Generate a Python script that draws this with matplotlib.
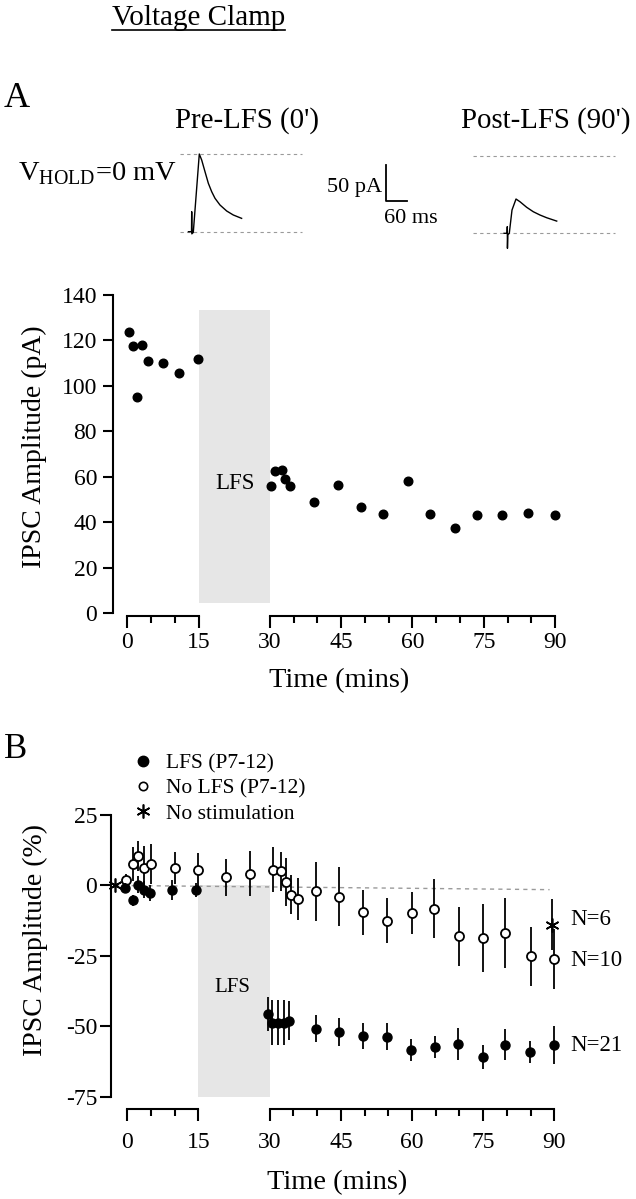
import matplotlib
matplotlib.use("Agg")
import matplotlib.pyplot as plt
from matplotlib.lines import Line2D

plt.rcParams['font.family'] = ['Liberation Serif', 'DejaVu Serif']
plt.rcParams['mathtext.fontset'] = 'custom'
plt.rcParams['mathtext.rm'] = 'Liberation Serif'
plt.rcParams['axes.unicode_minus'] = False

# ---- panel A: single cell, IPSC amplitude (pA) ----
a_time = [0.4, 1.1, 2.1, 3.1, 4.3, 7.6, 10.8, 14.8,
          30.3, 31.0, 32.5, 33.1, 34.3, 39.3, 44.4, 49.1, 53.8, 59.0,
          63.7, 68.9, 73.5, 78.8, 84.4, 89.9]
a_amp = [123.9, 117.5, 95.2, 117.8, 111.1, 110.1, 105.6, 112.0,
         56.1, 62.6, 62.9, 58.9, 55.8, 48.9, 56.5, 46.6, 43.5, 58.1,
         43.5, 37.4, 43.3, 43.3, 43.9, 43.2]

# ---- panel B: group data, % change (mean +/- sem) ----
lfs_time = [-0.5, 1.1, 2.3, 3.6, 4.8, 9.5, 14.4,
            29.6, 30.6, 31.8, 33.0, 34.1, 39.8, 44.7, 49.7, 54.7,
            59.8, 64.8, 69.7, 74.9, 79.7, 84.9, 89.9]
lfs_pct = [-0.8, -5.3, 0.3, -1.5, -2.7, -1.5, -1.5,
           -45.6, -48.8, -48.8, -48.8, -48.0, -50.8, -52.0, -53.5, -53.7,
           -58.5, -57.4, -56.4, -60.9, -56.5, -59.1, -56.6]
lfs_err = [1.5, 2.0, 3.0, 3.0, 3.0, 3.5, 2.5,
           6.0, 8.0, 8.0, 8.0, 7.0, 4.7, 4.9, 4.7, 4.8,
           3.9, 4.0, 5.7, 4.1, 5.6, 3.8, 6.7]

nolfs_time = [-0.3, 1.3, 2.3, 3.5, 5.0, 10.0, 14.9, 20.8, 25.8,
              30.7, 32.3, 33.4, 34.6, 36.0, 39.8, 44.6, 49.7, 54.7,
              59.9, 64.7, 69.9, 75.0, 79.7, 85.0, 90.0]
nolfs_pct = [2.0, 7.6, 10.4, 6.2, 7.6, 6.2, 5.4, 2.9, 4.2,
             5.5, 5.0, 1.2, -3.3, -4.8, -2.1, -4.0, -9.5, -12.5,
             -9.8, -8.2, -18.0, -18.6, -16.9, -25.1, -26.0]
nolfs_err = [2.0, 6.0, 5.3, 7.7, 7.2, 5.7, 6.0, 6.5, 8.0,
             8.0, 7.0, 8.5, 7.0, 7.5, 10.5, 10.5, 8.0, 8.0,
             7.3, 10.5, 10.5, 12.0, 12.5, 10.5, 10.6]

nostim_time = [-2.6, 89.6]
nostim_pct = [0.0, -13.9]
nostim_err = [0.0, 9.0]
baseline_time = [-2.6, 89.0]
baseline_pct = [0.0, -1.5]

n_labels = ['N=6', 'N=10', 'N=21']
n_pct = [-12.1, -26.7, -56.7]

# ---- example traces (ms from stimulus, pA from baseline) ----
pre_ms = [-9, -0.5, 0, 0.4, 4.4, 21, 27.6, 36.8, 46, 55.3, 64.4, 78.2, 96.7, 115, 138]
pre_pa = [0, 0, 28, -3, -1, 108.8, 100.4, 84, 67.8, 56, 46.8, 37.4, 29, 23.4, 18.7]
post_ms = [-9, -0.5, 0, 0.4, 1.5, 5.5, 13, 24.1, 35.1, 53.6, 71.9, 90.4, 108.9, 136.6]
post_pa = [0, 0, 9.3, -21, -2, 0, 32.6, 48, 44.2, 36.4, 30.2, 25.6, 21.8, 17.1]
pre_peak = 108.8
pre_ref_ms = [-32.4, 304]
post_ref_ms = [-94.8, 297.8]

W, H = 636, 1199
fig = plt.figure(figsize=(W / 100, H / 100), dpi=100)


def fx(x):
    return x / W


def fy(y):
    return 1 - y / H


def px_axes(x0, y0, x1, y1):
    return fig.add_axes([fx(x0), fy(y1), (x1 - x0) / W, (y1 - y0) / H])


def time_axis(ax, offset, tpad, lpad):
    for s in ['top', 'right']:
        ax.spines[s].set_visible(False)
    ax.spines['left'].set_linewidth(1.5)
    ax.spines['bottom'].set_linewidth(1.5)
    ax.spines['bottom'].set_position(('outward', offset))
    ax.spines['bottom'].set_bounds(0, 15)
    ax.set_xticks([0, 15])
    ax.set_xticks([5, 10], minor=True)
    ax2 = ax.twiny()
    ax2.set_xlim(ax.get_xlim())
    ax2.xaxis.set_ticks_position('bottom')
    for s in ['top', 'right', 'left']:
        ax2.spines[s].set_visible(False)
    ax2.spines['bottom'].set_visible(True)
    ax2.spines['bottom'].set_linewidth(1.5)
    ax2.spines['bottom'].set_position(('outward', offset))
    ax2.spines['bottom'].set_bounds(30, 90)
    ax2.set_xticks(range(30, 91, 15))
    ax2.set_xticks([35, 40, 50, 55, 65, 70, 80, 85], minor=True)
    for a in (ax, ax2):
        a.tick_params(axis='x', which='major', length=8.5, width=1.5, labelsize=17, pad=tpad)
        a.tick_params(axis='x', which='minor', length=5, width=1.5)
    ax.tick_params(axis='y', length=7.5, width=1.5, labelsize=17, pad=4)
    ax.set_xlabel('Time (mins)', fontsize=20.5, labelpad=lpad)


# ---- header ----
t = fig.text(fx(112), fy(25), 'Voltage Clamp', fontsize=21, va='baseline')
fig.text(fx(4), fy(107), 'A', fontsize=26, va='baseline')
fig.text(fx(175), fy(128), "Pre-LFS (0')", fontsize=20.8, va='baseline')
fig.text(fx(461), fy(128), "Post-LFS (90')", fontsize=20.8, va='baseline')
fig.text(fx(18), fy(180), r'V$_{\mathrm{HOLD}}$=0 mV', fontsize=20.5, va='baseline')
fig.text(fx(4), fy(758), 'B', fontsize=25, va='baseline')

fig.canvas.draw()
bb = t.get_window_extent()
fig.add_artist(Line2D([bb.x0, bb.x1], [bb.y0 + 1, bb.y0 + 1], transform=None,
                      color='black', lw=1.2))

# ---- traces ----
MS_PER_PX = 60 / 21.7
PA_PER_PX = 50 / 35.7


def trace_axes(x0, y0, x1, y1, ox, oy):
    ax = px_axes(x0, y0, x1, y1)
    ax.set_xlim((x0 - ox) * MS_PER_PX, (x1 - ox) * MS_PER_PX)
    ax.set_ylim((oy - y1) * PA_PER_PX, (oy - y0) * PA_PER_PX)
    ax.axis('off')
    return ax


ax_pre = trace_axes(170, 140, 320, 260, 191.7, 231.7)
for lvl in (0, pre_peak):
    ax_pre.plot(pre_ref_ms, [lvl, lvl], color='#9a9a9a', lw=0.8, ls=(0, (3, 3)))
ax_pre.plot(pre_ms, pre_pa, color='black', lw=1.0)

ax_post = trace_axes(320, 140, 630, 260, 507.3, 233.3)
for lvl in (0, pre_peak):
    ax_post.plot(post_ref_ms, [lvl, lvl], color='#9a9a9a', lw=0.8, ls=(0, (3, 3)))
ax_post.plot(post_ms, post_pa, color='black', lw=1.0)

# scale bar
sb_x = (385.7 - 507.3) * MS_PER_PX
sb_y = (233.3 - 200.7) * PA_PER_PX
ax_post.plot([sb_x, sb_x, sb_x + 60], [sb_y + 50, sb_y, sb_y], color='black', lw=1.3)
fig.text(fx(382), fy(192), '50 pA', fontsize=16, ha='right', va='baseline')
fig.text(fx(384), fy(223), '60 ms', fontsize=16, ha='left', va='baseline')

# ---- panel A ----
axA = px_axes(113, 295, 564.6, 613.3)
axA.set_xlim(-3.01, 92)
axA.set_ylim(0, 140)
axA.axvspan(15, 30, ymin=4.5 / 140, ymax=133.4 / 140, color='#e6e6e6', lw=0, zorder=0)
axA.text(22.7, 57.3, 'LFS', fontsize=16.5, ha='center', va='center')
axA.plot(a_time, a_amp, 'o', color='black', markersize=6.2, clip_on=False)
axA.set_yticks(range(0, 141, 20))
time_axis(axA, 2, 3, 11)
axA.set_ylabel('IPSC Amplitude (pA)', fontsize=20, va='center')
axA.yaxis.set_label_coords(-0.173, 0.524)

# ---- panel B ----
axB = px_axes(111, 815, 563.8, 1096.7)
axB.set_xlim(-3.44, 92)
axB.set_ylim(-75, 25)
axB.axvspan(15, 30, ymin=0, ymax=0.75, color='#e6e6e6', lw=0, zorder=0)
axB.text(22.1, -36.4, 'LFS', fontsize=15, ha='center', va='center')
axB.plot(baseline_time, baseline_pct, color='#9a9a9a', lw=1.0, ls=(0, (3, 3)), zorder=1)
axB.errorbar(nolfs_time, nolfs_pct, yerr=nolfs_err, fmt='o', color='black', mfc='white',
             mec='black', mew=1.3, markersize=6.5, elinewidth=1.3, capsize=0, zorder=3,
             clip_on=False)
axB.errorbar(lfs_time, lfs_pct, yerr=lfs_err, fmt='o', color='black', markersize=6.5,
             elinewidth=1.3, capsize=0, zorder=4, clip_on=False)
axB.errorbar(nostim_time, nostim_pct, yerr=nostim_err, fmt='none', ecolor='black',
             elinewidth=1.3, capsize=0, zorder=2)
axB.plot(nostim_time, nostim_pct, ls='none', marker=(6, 2, 0), color='black',
         markersize=10, mew=1.2, zorder=5, clip_on=False)
for lab, v in zip(n_labels, n_pct):
    axB.text(93.3, v, lab, fontsize=16.5, ha='left', va='center')
axB.set_yticks([25, 0, -25, -50, -75])
time_axis(axB, 9, 8, 12)
axB.tick_params(axis='y', length=8, pad=2)
axB.set_ylabel('IPSC Amplitude (%)', fontsize=20, va='center')
axB.yaxis.set_label_coords(-0.168, 0.556)

handles = [
    Line2D([], [], ls='none', marker='o', color='black', markersize=7.5),
    Line2D([], [], ls='none', marker='o', mfc='white', mec='black', mew=1.2, markersize=6),
    Line2D([], [], ls='none', marker=(6, 2, 0), color='black', mew=1.2, markersize=10),
]
fig.legend(handles, ['LFS (P7-12)', 'No LFS (P7-12)', 'No stimulation'],
           loc='upper left', bbox_to_anchor=(fx(132), fy(753)), frameon=False,
           fontsize=15.5, handlelength=1.0, handletextpad=0.6, labelspacing=0.25,
           borderpad=0, borderaxespad=0)

fig.savefig('out.png', dpi=100)
